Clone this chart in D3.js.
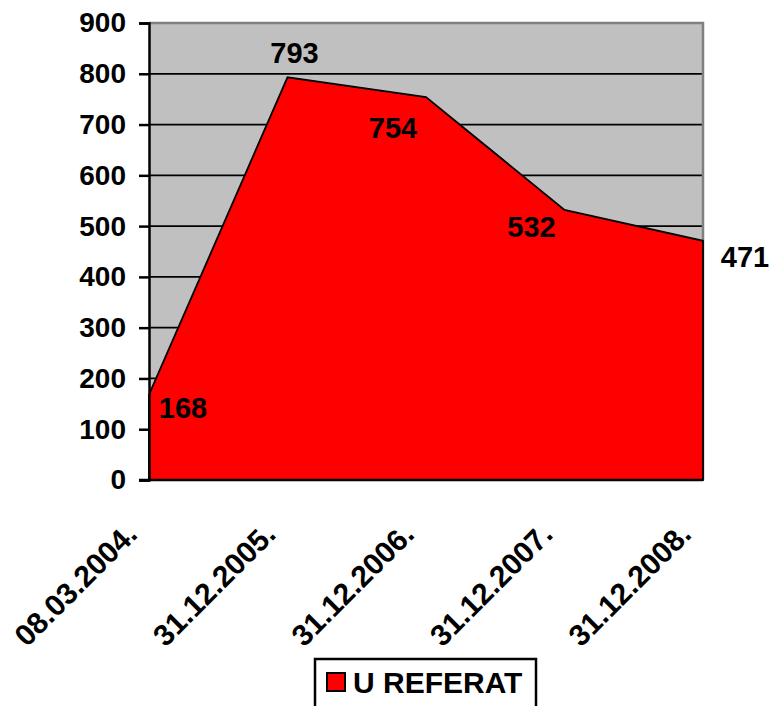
<!DOCTYPE html>
<html>
<head>
<meta charset="utf-8">
<script src="https://cdn.jsdelivr.net/npm/d3@7"></script>
<style>
  body { margin: 0; background: #fff; }
  text { font-family: "Liberation Sans", Arial, sans-serif; font-weight: bold; fill: #000; }
</style>
</head>
<body>
<svg width="773" height="706"></svg>
<script>
// data
var categories = ["08.03.2004.", "31.12.2005.", "31.12.2006.", "31.12.2007.", "31.12.2008."];
var values = [168, 793, 754, 532, 471];
var yTicks = [0, 100, 200, 300, 400, 500, 600, 700, 800, 900];
var seriesName = "U REFERAT";

// where Excel put each value label, relative to its point
var labelOffsets = [[34, 23], [7, -14], [-33, 41], [-33, 27], [42, 26]];

var svg = d3.select("svg");
var plotLeft = 149, plotRight = 703, plotTop = 23, plotBottom = 480;

var x = d3.scalePoint().domain(categories).range([plotLeft, plotRight]);
var y = d3.scaleLinear().domain([0, 900]).range([plotBottom, plotTop]);

// plot background
svg.append("rect")
    .attr("x", plotLeft).attr("y", plotTop)
    .attr("width", plotRight - plotLeft).attr("height", plotBottom - plotTop)
    .attr("fill", "#c0c0c0");

// gridlines
svg.selectAll(".grid")
    .data(yTicks.filter(function (d) { return d > 0 && d < 900; }))
    .enter().append("line")
    .attr("class", "grid")
    .attr("x1", plotLeft).attr("x2", plotRight)
    .attr("y1", function (d) { return y(d); })
    .attr("y2", function (d) { return y(d); })
    .attr("stroke", "#000").attr("stroke-width", 1.8);

// top and right border of plot area
svg.append("path")
    .attr("d", "M" + plotLeft + "," + plotTop + "H" + plotRight + "V" + plotBottom)
    .attr("fill", "none").attr("stroke", "#808080").attr("stroke-width", 2.5);

// area
var area = d3.area()
    .x(function (d, i) { return x(categories[i]); })
    .y0(plotBottom)
    .y1(function (d) { return y(d); });

svg.append("path")
    .datum(values)
    .attr("d", area)
    .attr("fill", "#ff0000")
    .attr("stroke", "#000").attr("stroke-width", 1.8)
    .attr("stroke-linejoin", "miter");

// y axis
var yAxis = svg.append("g")
    .attr("transform", "translate(" + plotLeft + ",0)")
    .call(d3.axisLeft(y).tickValues(yTicks).tickSize(10).tickPadding(13));
yAxis.select(".domain").attr("stroke", "#000").attr("stroke-width", 2.5);
yAxis.selectAll(".tick line").attr("stroke", "#000").attr("stroke-width", 2.5);
yAxis.selectAll(".tick text")
    .style("font-size", "28px")
    .attr("font-family", null)
    .attr("fill", "#000");

// x axis line
svg.append("line")
    .attr("x1", plotLeft - 10).attr("x2", plotRight)
    .attr("y1", plotBottom).attr("y2", plotBottom)
    .attr("stroke", "#000").attr("stroke-width", 2.5);

// x labels, rotated
svg.selectAll(".xlab")
    .data(categories)
    .enter().append("text")
    .attr("class", "xlab")
    .attr("text-anchor", "end")
    .attr("transform", function (d) {
        return "translate(" + (x(d) - 10) + "," + (plotBottom + 56) + ") rotate(-45)";
    })
    .style("font-size", "30px")
    .text(function (d) { return d; });

// value labels
svg.selectAll(".vlab")
    .data(values)
    .enter().append("text")
    .attr("class", "vlab")
    .attr("text-anchor", "middle")
    .attr("x", function (d, i) { return x(categories[i]) + labelOffsets[i][0]; })
    .attr("y", function (d, i) { return y(d) + labelOffsets[i][1]; })
    .style("font-size", "29px")
    .text(function (d) { return d; });

// legend
var legend = svg.append("g");
legend.append("rect")
    .attr("x", 315).attr("y", 659)
    .attr("width", 221).attr("height", 60)
    .attr("fill", "#fff").attr("stroke", "#000").attr("stroke-width", 2.5);
legend.append("rect")
    .attr("x", 327).attr("y", 673)
    .attr("width", 18).attr("height", 18)
    .attr("fill", "#ff0000").attr("stroke", "#000").attr("stroke-width", 2);
legend.append("text")
    .attr("x", 353).attr("y", 693)
    .style("font-size", "30px")
    .text(seriesName);
</script>
</body>
</html>
